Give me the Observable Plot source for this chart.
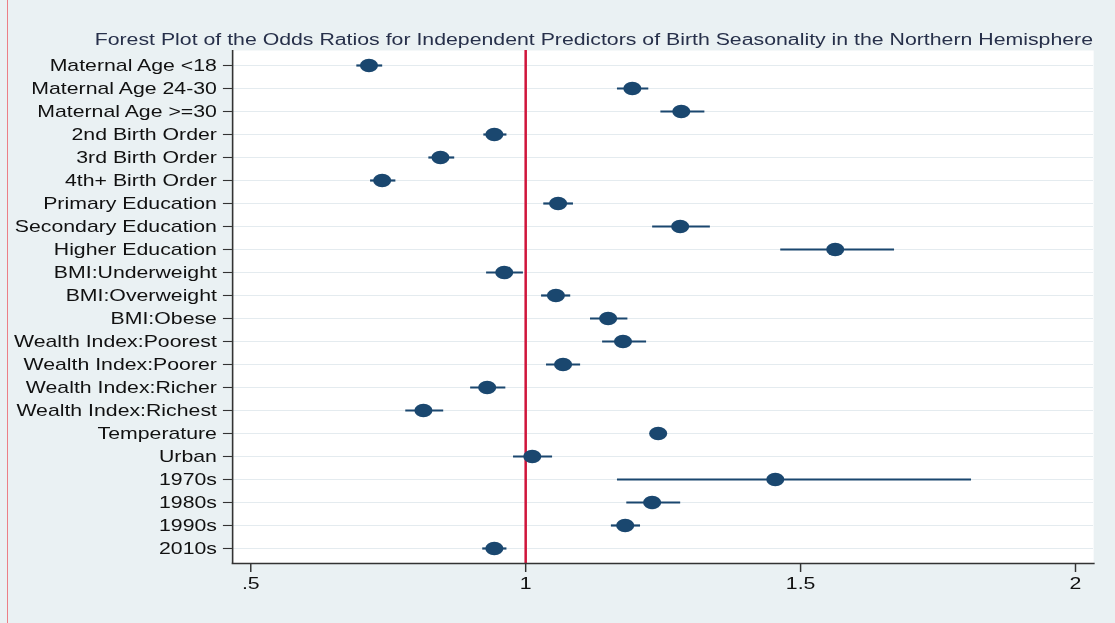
<!DOCTYPE html>
<html>
<head>
<meta charset="utf-8">
<script src="https://cdn.jsdelivr.net/npm/d3@7"></script>
<script src="https://cdn.jsdelivr.net/npm/@observablehq/plot@0.6"></script>
<style>
  html, body { margin: 0; padding: 0; background: #eaf1f3; }
  #wrap { position: relative; width: 1115px; height: 623px; background: #eaf1f3; overflow: hidden; font-family: "Liberation Sans", Arial, sans-serif; }
  #stretch { position: absolute; left: 0; top: 0; width: 838.3px; height: 623px; transform: scaleX(1.33); transform-origin: 0 0; }
  #title { position: absolute; top: 31px; left: 0; width: 893px; text-align: center; font-size: 16px; color: #27304a; white-space: nowrap; }
  #edge { position: absolute; left: 7px; top: 0; width: 1px; height: 623px; background: #ec7f86; }
  #chart { position: absolute; left: 0; top: 0; }
</style>
</head>
<body>
<div id="wrap">
  <div id="edge"></div>
  <div id="stretch">
    <div id="chart"></div>
    <div id="title">Forest Plot of the Odds Ratios for Independent Predictors of Birth Seasonality in the Northern Hemisphere</div>
  </div>
</div>
<script>
const categories = [
  "Maternal Age <18", "Maternal Age 24-30", "Maternal Age >=30",
  "2nd Birth Order", "3rd Birth Order", "4th+ Birth Order",
  "Primary Education", "Secondary Education", "Higher Education",
  "BMI:Underweight", "BMI:Overweight", "BMI:Obese",
  "Wealth Index:Poorest", "Wealth Index:Poorer", "Wealth Index:Richer", "Wealth Index:Richest",
  "Temperature", "Urban", "1970s", "1980s", "1990s", "2010s"
];
const oddsRatio = [0.715, 1.194, 1.283, 0.943, 0.845, 0.739, 1.059, 1.281, 1.563, 0.961, 1.055, 1.150,
                   1.177, 1.068, 0.930, 0.814, 1.241, 1.012, 1.454, 1.230, 1.181, 0.943];
const lowerCI   = [0.692, 1.166, 1.245, 0.923, 0.823, 0.717, 1.032, 1.230, 1.463, 0.928, 1.028, 1.117,
                   1.139, 1.037, 0.899, 0.781, 1.232, 0.977, 1.166, 1.183, 1.155, 0.921];
const upperCI   = [0.739, 1.223, 1.325, 0.965, 0.870, 0.763, 1.086, 1.335, 1.670, 0.995, 1.081, 1.185,
                   1.219, 1.099, 0.963, 0.850, 1.250, 1.048, 1.810, 1.281, 1.208, 0.965];
const xTicks = [0.5, 1, 1.5, 2];
const xDomain = [0.467, 2.033];
const referenceLine = [1];

const rows = categories.map((c, i) => ({label: c, or: oddsRatio[i], lo: lowerCI[i], hi: upperCI[i]}));

const navy = "#1a476f";

const chart = Plot.plot({
  width: 838.3,
  height: 623,
  marginTop: 50,
  marginBottom: 60,
  marginLeft: 174.4,
  marginRight: 16.5,
  style: {background: "transparent", fontFamily: "'Liberation Sans', Arial, sans-serif", fontSize: "16px", color: "#111"},
  x: {domain: xDomain, ticks: xTicks, label: null},
  y: {type: "point", domain: categories, padding: 0.5, label: null},
  marks: [
    Plot.frame({fill: "white", stroke: "none"}),
    Plot.gridY({stroke: "#e4ebef", strokeOpacity: 1, strokeWidth: 1.2}),
    Plot.ruleX(referenceLine, {stroke: "#d0163c", strokeWidth: 1.9}),
    Plot.link(rows, {x1: "lo", x2: "hi", y1: "label", y2: "label", stroke: navy, strokeWidth: 2.2}),
    Plot.dot(rows, {x: "or", y: "label", r: 6.8, fill: navy, stroke: "none"}),
    Plot.ruleX([xDomain[0]], {stroke: "#333", strokeWidth: 1.2}),
    Plot.axisY({tickSize: 6.8, tickPadding: 5, fontSize: 16, stroke: "#333", strokeWidth: 1.1, color: "#111"}),
    Plot.axisX({ticks: xTicks, tickSize: 9, tickPadding: 5, fontSize: 16, stroke: "#333", strokeWidth: 1.1,
                tickFormat: d => String(d).replace(/^0\./, ".")}),
    Plot.frame({anchor: "bottom", stroke: "#333", strokeWidth: 1.5})
  ]
});
document.getElementById("chart").appendChild(chart);
</script>
</body>
</html>
